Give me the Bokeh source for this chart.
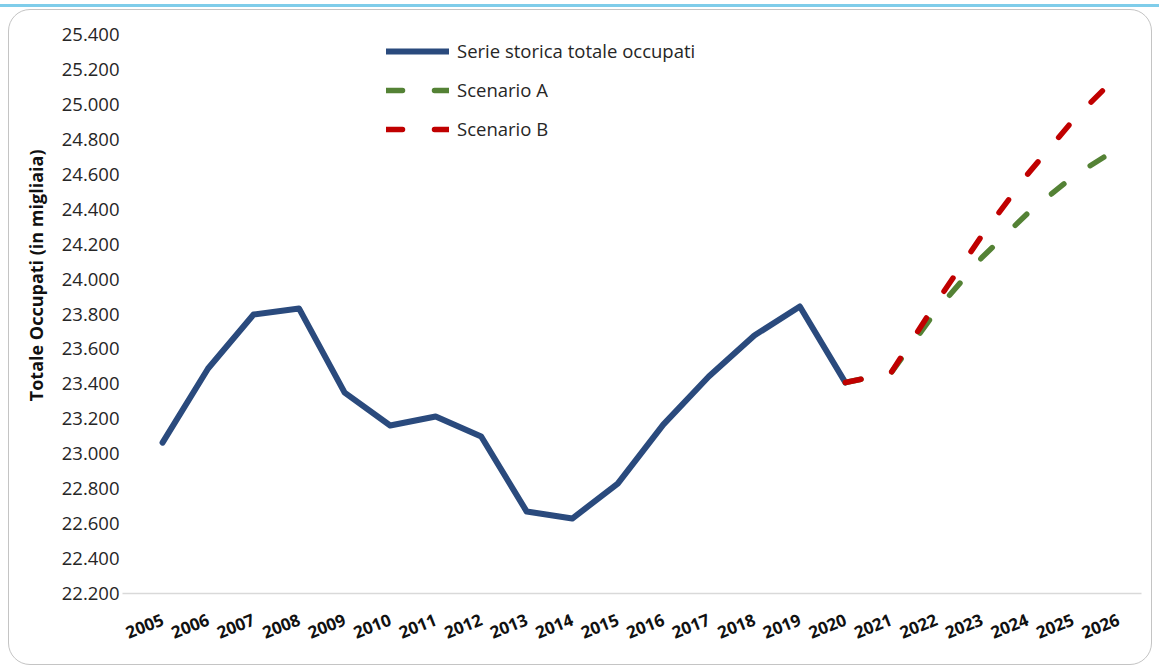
from bokeh.plotting import figure
from bokeh.models import Range1d, FixedTicker, Legend, LegendItem, Div, Title
from bokeh.layouts import column
from bokeh.embed import file_html
from bokeh.resources import INLINE

# ---- data ----
hist_years = [2005, 2006, 2007, 2008, 2009, 2010, 2011, 2012, 2013, 2014,
              2015, 2016, 2017, 2018, 2019, 2020]
hist_values = [23064, 23488, 23797, 23831, 23350, 23162, 23213, 23099, 22669, 22629,
               22829, 23167, 23442, 23677, 23843, 23408]
scen_years = [2020, 2021, 2022, 2023, 2024, 2025, 2026]
scen_a = [23408, 23462, 23820, 24123, 24375, 24587, 24750]
scen_b = [23408, 23462, 23866, 24249, 24599, 24908, 25170]
x_labels = [2005, 2006, 2007, 2008, 2009, 2010, 2011, 2012, 2013, 2014, 2015,
            2016, 2017, 2018, 2019, 2020, 2021, 2022, 2023, 2024, 2025, 2026]
y_ticks = [22200, 22400, 22600, 22800, 23000, 23200, 23400, 23600, 23800,
           24000, 24200, 24400, 24600, 24800, 25000, 25200, 25400]
series_names = ["Serie storica totale occupati", "Scenario A", "Scenario B"]
y_title = "Totale Occupati (in migliaia)"

BLUE = "#2a4a7d"
GREEN = "#548235"
RED = "#c00000"
FONT = "Open Sans"

p = figure(width=1144, height=656, output_backend="svg", toolbar_location=None,
           x_range=Range1d(2004.12, 2026.506), y_range=Range1d(22200, 25400),
           min_border_left=113, min_border_right=12, min_border_top=24,
           min_border_bottom=73)
p.xgrid.visible = False
p.ygrid.visible = False
p.outline_line_color = None
p.border_fill_alpha = 0
p.background_fill_color = "white"
p.styles = {"border": "1.5px solid #c4c4c4", "border-radius": "22px"}
p.margin = (2, 0, 0, 8)

# x axis
p.xaxis.ticker = FixedTicker(ticks=x_labels)
p.xaxis.major_label_overrides = {y: str(y) for y in x_labels}
p.xaxis.major_label_orientation = 0.38
p.xaxis.major_tick_line_color = None
p.xaxis.major_tick_out = 0
p.xaxis.minor_tick_line_color = None
p.xaxis.axis_line_color = "#d9d9d9"
p.xaxis.axis_line_width = 1.5
p.xaxis.major_label_text_font = FONT
p.xaxis.major_label_text_font_style = "bold"
p.xaxis.major_label_text_font_size = "17px"
p.xaxis.major_label_text_color = "#111111"
p.xaxis.major_label_standoff = 25

# y axis
p.yaxis.ticker = FixedTicker(ticks=y_ticks)
p.yaxis.major_label_overrides = {v: f"{v/1000:.3f}" for v in y_ticks}
p.yaxis.axis_line_color = None
p.yaxis.major_tick_line_color = None
p.yaxis.major_tick_out = 0
p.yaxis.minor_tick_line_color = None
p.yaxis.major_label_text_font = FONT
p.yaxis.major_label_text_font_size = "18.5px"
p.yaxis.major_label_text_color = "#262626"
p.yaxis.major_label_standoff = 3

# vertical axis title (placed higher than centre, like the reference)
ytitle = Title(text=y_title, align="right", offset=115, standoff=22,
               text_font=FONT, text_font_style="bold", text_font_size="18px",
               text_color="#111111")
p.add_layout(ytitle, "left")

# lines
r_hist = p.line(hist_years, hist_values, line_color=BLUE, line_width=6,
                line_cap="round", line_join="round")
r_a = p.line(scen_years, scen_a, line_color=GREEN, line_width=5.5,
             line_cap="round", line_join="round", line_dash="16 32")
r_b = p.line(scen_years, scen_b, line_color=RED, line_width=5.5,
             line_cap="round", line_join="round", line_dash="16 32")

legend = Legend(items=[LegendItem(label=series_names[0], renderers=[r_hist]),
                       LegendItem(label=series_names[1], renderers=[r_a]),
                       LegendItem(label=series_names[2], renderers=[r_b])],
                location=(264, 452), orientation="vertical")
legend.glyph_width = 63
legend.glyph_height = 20
legend.label_height = 20
legend.spacing = 14
legend.label_standoff = 8
legend.padding = 0
legend.margin = 0
legend.border_line_alpha = 0
legend.background_fill_alpha = 0
legend.label_text_font = FONT
legend.label_text_font_size = "18.5px"
legend.label_text_color = "#262626"
p.add_layout(legend, "center")

blue_bar = Div(width=1159, height=3, margin=(4, 0, 0, 0),
               styles={"background-color": "#7fcdea"})

layout = column(blue_bar, p, spacing=0)

open("out.html", "w").write(file_html(layout, INLINE))
